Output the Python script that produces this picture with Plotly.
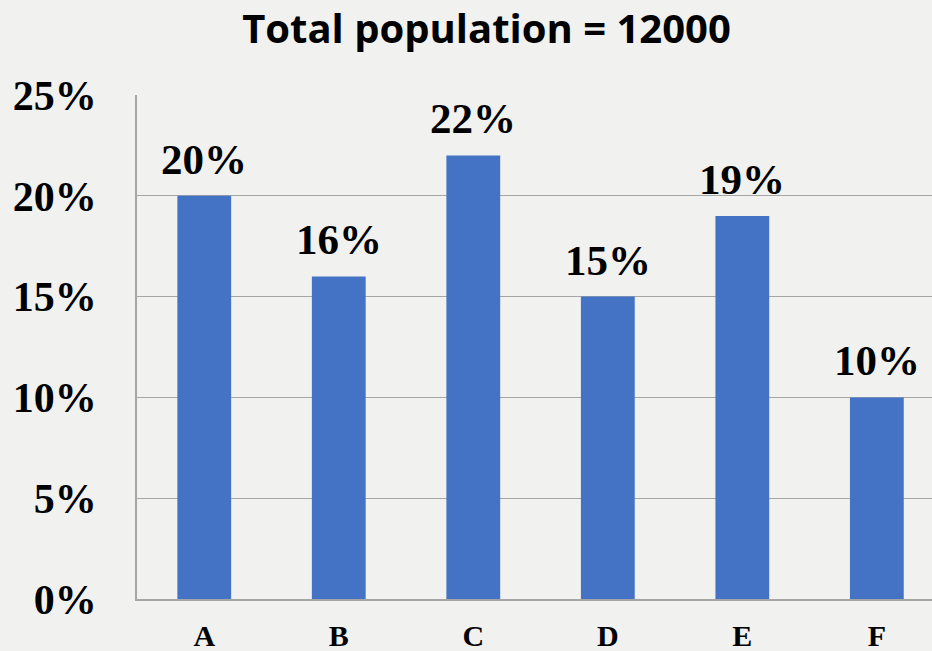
import plotly.graph_objects as go

categories = ["A", "B", "C", "D", "E", "F"]
values = [20, 16, 22, 15, 19, 10]
labels = ["20%", "16%", "22%", "15%", "19%", "10%"]
title_text = "Total population = 12000"
y_ticks = [0, 5, 10, 15, 20, 25]
y_tick_text = ["0%", "5%", "10%", "15%", "20%", "25%"]

BG = "#f1f1ef"
GRID = "#a6a6a6"
BAR = "#4472C4"
SERIF = "Liberation Serif"

fig = go.Figure()
fig.add_trace(go.Bar(
    x=categories, y=values, width=0.4,
    marker=dict(color=BAR, line=dict(width=0)),
    hoverinfo="skip",
))

for c, v, t in zip(categories, values, labels):
    fig.add_annotation(
        x=c, y=v, text="<b>" + t + "</b>", showarrow=False, yanchor="bottom",
        yshift=11, font=dict(family=SERIF, size=43, color="black"),
    )

fig.update_layout(
    width=932, height=651,
    paper_bgcolor=BG, plot_bgcolor=BG,
    margin=dict(l=137, r=0, t=95, b=52, autoexpand=False),
    showlegend=False,
    title=dict(
        text="<b>" + title_text + "</b>", x=0.522, xanchor="center", y=0.955, yanchor="middle",
        font=dict(family="Open Sans", size=40, color="black"),
    ),
    xaxis=dict(
        type="category", range=[-0.5, 5.41], automargin=False,
        showgrid=False, showline=True, linecolor=GRID, linewidth=1.5,
        ticks="", ticklabelstandoff=9,
        tickvals=categories, ticktext=["<b>" + c + "</b>" for c in categories],
        tickfont=dict(family=SERIF, size=30, color="black"),
        fixedrange=True,
    ),
    yaxis=dict(
        range=[0, 25], tickvals=y_ticks,
        ticktext=["<b>" + t + "</b>" for t in y_tick_text], automargin=False,
        showgrid=True, gridcolor=GRID, gridwidth=1.3,
        showline=True, linecolor=GRID, linewidth=1.5,
        zeroline=False, ticks="", ticklabelstandoff=30,
        tickfont=dict(family=SERIF, size=42, color="black"),
        fixedrange=True,
    ),
)

fig.write_html(
    "out.html",
    config={"displayModeBar": False},
    post_script="document.body.style.margin='0';document.body.style.overflow='hidden';",
)
